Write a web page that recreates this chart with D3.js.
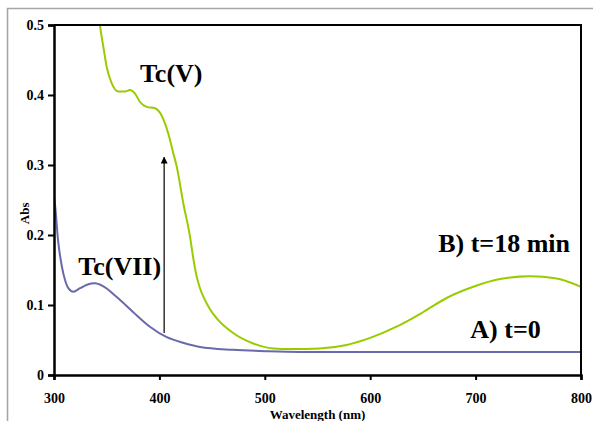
<!DOCTYPE html>
<html>
<head>
<meta charset="utf-8">
<script src="https://cdn.jsdelivr.net/npm/d3@7"></script>
<style>
    body { margin: 0; background: #fff; }
    svg text { font-family: "Liberation Serif", "Times New Roman", serif; font-weight: bold; fill: #000; }
</style>
</head>
<body>
<svg id="spectra_chart" width="593" height="421"></svg>
<script>
// spectrum at t=0 (Tc(VII))
var wavelength_a = [300, 301, 303.8, 307.6, 310.4, 313.6, 318.3, 324.7, 331.3, 339, 346.5, 359.8, 375, 391, 407, 422.4, 438.5, 470, 502, 533, 600, 700, 800];
var abs_a = [0.254, 0.243, 0.193, 0.154, 0.136, 0.124, 0.119, 0.124, 0.129, 0.131, 0.127, 0.111, 0.090, 0.069, 0.054, 0.046, 0.040, 0.036, 0.034, 0.033, 0.033, 0.033, 0.033];

// spectrum at t=18 min (Tc(V))
var wavelength_b = [340, 343.6, 346.8, 350, 354.7, 361, 367.4, 372, 376.9, 381.6, 388, 395.8, 402, 408.4, 413, 416.4, 422.7, 429, 432, 435, 438.5, 443.3, 448, 454.4, 470, 489, 508, 525.5, 552, 577.7, 600, 625, 650.4, 672.5, 697.8, 723, 751.6, 776.9, 800];
var abs_b = [0.56, 0.5, 0.469, 0.44, 0.417, 0.405, 0.405, 0.407, 0.402, 0.390, 0.383, 0.381, 0.371, 0.345, 0.318, 0.298, 0.245, 0.198, 0.168, 0.143, 0.124, 0.107, 0.094, 0.081, 0.060, 0.045, 0.038, 0.037, 0.038, 0.043, 0.053, 0.069, 0.090, 0.110, 0.126, 0.137, 0.141, 0.138, 0.126];

var x_ticks = [300, 400, 500, 600, 700, 800];
var y_ticks = [0, 0.1, 0.2, 0.3, 0.4, 0.5];

// arrow from Tc(VII) up to Tc(V)
var arrow_x = 404.5;
var arrow_from = 0.06;
var arrow_to = 0.311;

var annotations = [
    {text: "Tc(V)", x: 381.5, y: 0.419},
    {text: "Tc(VII)", x: 323, y: 0.143},
    {text: "B) t=18 min", x: 664.5, y: 0.176},
    {text: "A) t=0", x: 695, y: 0.053}
];

function build_chart() {
    var svg = d3.select("#spectra_chart");
    const margins = {top: 25, right: 12, bottom: 46, left: 54};
    var svg_width = 593, svg_height = 421;

    // grey outer frame (top and left only visible)
    svg.append("path")
        .attr("d", "M7.5,421 L7.5,8.5 L593,8.5")
        .attr("fill", "none")
        .attr("stroke", "#a6a6a6")
        .attr("stroke-width", 1.6);

    var xScale = d3.scaleLinear()
        .domain([300, 800])
        .range([margins.left, svg_width - margins.right]);
    var yScale = d3.scaleLinear()
        .domain([0, 0.5])
        .range([svg_height - margins.bottom, margins.top]);

    svg.append("defs").append("clipPath").attr("id", "plot_clip")
        .append("rect")
        .attr("x", xScale(300)).attr("y", yScale(0.5))
        .attr("width", xScale(800) - xScale(300))
        .attr("height", yScale(0) - yScale(0.5));

    var line = d3.line()
        .x(d => xScale(d[0]))
        .y(d => yScale(d[1]))
        .curve(d3.curveMonotoneX);

    var curves = svg.append("g").attr("clip-path", "url(#plot_clip)");
    curves.append("path")
        .datum(d3.zip(wavelength_b, abs_b))
        .attr("d", line)
        .attr("fill", "none")
        .attr("stroke", "#99cc00")
        .attr("stroke-width", 2);
    curves.append("path")
        .datum(d3.zip(wavelength_a, abs_a))
        .attr("d", line)
        .attr("fill", "none")
        .attr("stroke", "#6a6aaa")
        .attr("stroke-width", 2);

    // plot frame top and right
    svg.append("path")
        .attr("d", "M" + xScale(300) + "," + yScale(0.5) + " L" + xScale(800) + "," + yScale(0.5) + " L" + xScale(800) + "," + yScale(0))
        .attr("fill", "none")
        .attr("stroke", "#000")
        .attr("stroke-width", 2);

    var xAxis = svg.append("g")
        .attr("transform", "translate(0," + yScale(0) + ")")
        .call(d3.axisBottom(xScale).tickValues(x_ticks).tickSize(5).tickPadding(13).tickFormat(d3.format("d")));
    var yAxis = svg.append("g")
        .attr("transform", "translate(" + xScale(300) + ",0)")
        .call(d3.axisLeft(yScale).tickValues(y_ticks).tickSize(6).tickPadding(4).tickFormat(d => d === 0 ? "0" : d3.format(".1f")(d)));

    [xAxis, yAxis].forEach(function(axis) {
        axis.select(".domain").attr("stroke", "#000").attr("stroke-width", 2.5);
        axis.selectAll(".tick line").attr("stroke", "#000").attr("stroke-width", 2);
        axis.selectAll(".tick text")
            .attr("font-family", "Liberation Serif, serif")
            .attr("font-weight", "bold")
            .attr("font-size", 14)
            .attr("fill", "#000");
    });

    svg.append("text")
        .attr("x", (xScale(300) + xScale(800)) / 2)
        .attr("y", 419)
        .attr("text-anchor", "middle")
        .attr("font-size", 13)
        .text("Wavelength (nm)");

    svg.append("text")
        .attr("transform", "translate(29," + yScale(0.231) + ") rotate(-90)")
        .attr("text-anchor", "middle")
        .attr("font-size", 13)
        .text("Abs");

    // arrow
    svg.append("defs").append("marker")
        .attr("id", "arrow_head")
        .attr("viewBox", "0 0 10 10")
        .attr("refX", 9).attr("refY", 5)
        .attr("markerWidth", 7).attr("markerHeight", 7)
        .attr("markerUnits", "userSpaceOnUse")
        .attr("orient", "auto")
        .append("path")
        .attr("d", "M0,0 L10,5 L0,10 Z")
        .attr("fill", "#000");
    svg.append("line")
        .attr("x1", xScale(arrow_x)).attr("x2", xScale(arrow_x))
        .attr("y1", yScale(arrow_from)).attr("y2", yScale(arrow_to))
        .attr("stroke", "#000")
        .attr("stroke-width", 1.2)
        .attr("marker-end", "url(#arrow_head)");

    svg.selectAll("text.annotation")
        .data(annotations).enter()
        .append("text").classed("annotation", true)
        .attr("x", d => xScale(d.x))
        .attr("y", d => yScale(d.y))
        .attr("font-size", 26)
        .text(d => d.text);
}

build_chart();
</script>
</body>
</html>
